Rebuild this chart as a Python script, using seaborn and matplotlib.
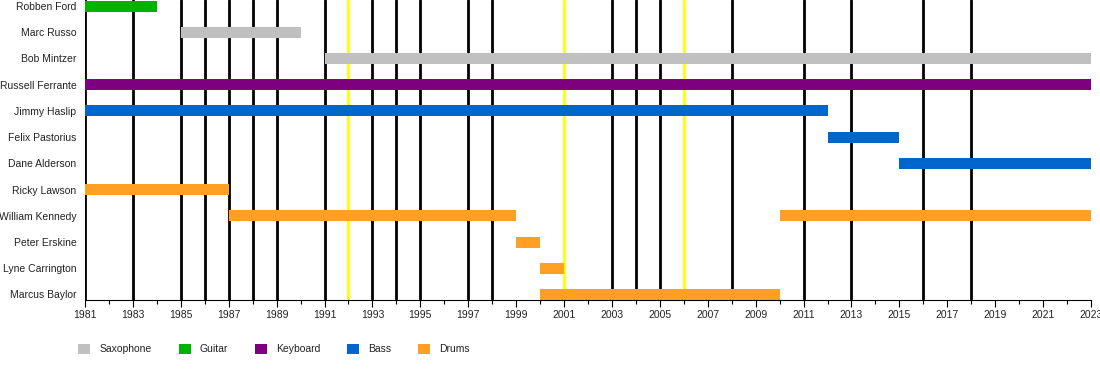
import matplotlib
matplotlib.use("Agg")
import matplotlib.pyplot as plt
from matplotlib.patches import Patch
from matplotlib.ticker import MultipleLocator
import seaborn as sns
import pandas as pd

# ---- data ----
members = ["Robben Ford", "Marc Russo", "Bob Mintzer", "Russell Ferrante",
           "Jimmy Haslip", "Felix Pastorius", "Dane Alderson", "Ricky Lawson",
           "William Kennedy", "Peter Erskine", "Lyne Carrington", "Marcus Baylor"]

bar_member = ["Robben Ford", "Marc Russo", "Bob Mintzer", "Russell Ferrante",
              "Jimmy Haslip", "Felix Pastorius", "Dane Alderson", "Ricky Lawson",
              "William Kennedy", "William Kennedy", "Peter Erskine",
              "Lyne Carrington", "Marcus Baylor"]
bar_start = [1981, 1985, 1991, 1981, 1981, 2012, 2015, 1981, 1987, 2010, 1999, 2000, 2000]
bar_end = [1984, 1990, 2023, 2023, 2012, 2015, 2023, 1987, 1999, 2023, 2000, 2001, 2010]
bar_role = ["Guitar", "Saxophone", "Saxophone", "Keyboard", "Bass", "Bass", "Bass",
            "Drums", "Drums", "Drums", "Drums", "Drums", "Drums"]

roles = ["Saxophone", "Guitar", "Keyboard", "Bass", "Drums"]
role_colors = ["#C0C0C0", "#00B300", "#7F007F", "#0066CC", "#FFA024"]

studio_years = [1981, 1983, 1985, 1986, 1987, 1988, 1989, 1991, 1993, 1994, 1995,
                1997, 1998, 2003, 2004, 2005, 2008, 2011, 2013, 2016, 2018]
live_years = [1992, 2001, 2006]

year_min, year_max = 1981, 2023

# ---- plot ----
sns.set_theme(style="white")
plt.rcParams["font.family"] = ["Liberation Sans", "DejaVu Sans"]

fig = plt.figure(figsize=(11, 3.8), dpi=100)
ax = fig.add_axes([85 / 1100, 80 / 380, (1091 - 85) / 1100, 300 / 380])

df = pd.DataFrame({"member": bar_member, "start": bar_start,
                   "end": bar_end, "role": bar_role})
cmap = dict(zip(roles, role_colors))
n = len(members)
row = {m: n - 1 - i for i, m in enumerate(members)}
bar_h = 0.42

for y in studio_years:
    ax.axvline(y, color="black", lw=2.0, zorder=1)
for y in live_years:
    ax.axvline(y, color="#FFFF00", lw=2.0, zorder=1)

ax.barh([row[m] for m in df["member"]], df["end"] - df["start"], left=df["start"],
        height=bar_h, align="edge", color=[cmap[r] for r in df["role"]],
        linewidth=0, zorder=2)

ax.set_xlim(year_min, year_max)
ax.set_ylim(0, n - 1 + bar_h + 0.02)
ax.set_yticks([row[m] + bar_h / 2 for m in members])
ax.set_yticklabels(members)
ax.xaxis.set_major_locator(MultipleLocator(2))
ax.xaxis.set_minor_locator(MultipleLocator(1))
ax.set_xticks(range(year_min, year_max + 1, 2))
ax.tick_params(axis="y", length=0, pad=6.3, labelsize=7.5, labelcolor="#222222")
ax.tick_params(axis="x", which="major", bottom=True, length=5, width=0.8,
               color="black", labelsize=7.5, labelcolor="#222222", pad=2)
ax.tick_params(axis="x", which="minor", bottom=True, length=3, width=0.8, color="black")
for s in ["top", "left", "right"]:
    ax.spines[s].set_visible(False)
ax.spines["bottom"].set_color("black")
ax.spines["bottom"].set_linewidth(0.8)
ax.set_xlabel("")
ax.set_ylabel("")

handles = [Patch(facecolor=c, edgecolor="none") for c in role_colors]
fig.legend(handles, roles, ncol=5, loc="center left",
           bbox_to_anchor=(69 / 1100, 1 - 349 / 380), frameon=False,
           fontsize=7.5, handlelength=1.15, handleheight=1.15,
           handletextpad=0.85, columnspacing=2.6, labelcolor="#222222")

fig.savefig("out.png", dpi=100)
